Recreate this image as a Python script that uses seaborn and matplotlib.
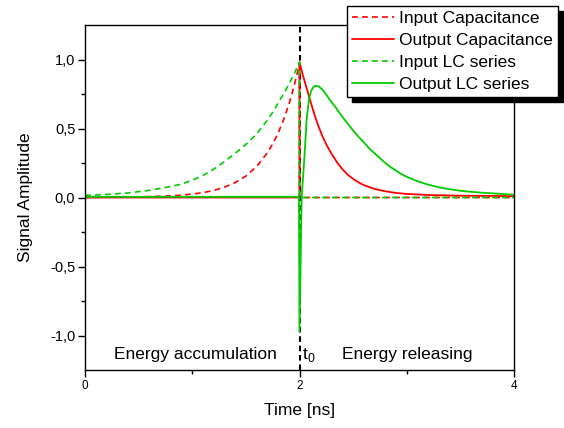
import matplotlib
matplotlib.use("Agg")
import matplotlib.pyplot as plt
import seaborn as sns
from matplotlib.ticker import FixedLocator

# Input Capacitance (dashed red)
t_in_cap = [0.0, 0.5, 0.8, 0.9, 1.0, 1.1, 1.2, 1.3, 1.4, 1.5, 1.6, 1.7, 1.75,
            1.8, 1.85, 1.9, 1.95, 2.0, 2.0, 4.0]
v_in_cap = [0.0, 0.004, 0.012, 0.017, 0.025, 0.035, 0.051, 0.075, 0.108, 0.155,
            0.224, 0.323, 0.388, 0.466, 0.56, 0.672, 0.808, 0.97, 0.0, 0.0]

# Output Capacitance (solid red)
t_out_cap = [0.0, 2.0, 2.0, 2.03, 2.06, 2.09, 2.12, 2.15, 2.18, 2.21, 2.25, 2.3,
             2.35, 2.4, 2.45, 2.5, 2.55, 2.6, 2.7, 2.8, 2.9, 3.0, 3.2, 3.5, 4.0]
v_out_cap = [0.0, 0.0, 0.98, 0.89, 0.81, 0.73, 0.65, 0.575, 0.51, 0.45, 0.385,
             0.315, 0.255, 0.205, 0.165, 0.135, 0.11, 0.09, 0.062, 0.045, 0.033,
             0.026, 0.018, 0.013, 0.01]

# Input LC series (dashed green)
t_in_lc = [0.0, 0.2, 0.4, 0.6, 0.8, 0.9, 1.0, 1.1, 1.2, 1.3, 1.4, 1.5, 1.6, 1.7,
           1.76, 1.82, 1.88, 1.94, 1.97, 2.0, 2.0, 4.0]
v_in_lc = [0.015, 0.022, 0.033, 0.052, 0.08, 0.097, 0.125, 0.16, 0.205, 0.26,
           0.32, 0.385, 0.46, 0.56, 0.63, 0.71, 0.79, 0.88, 0.93, 0.98, 0.0, 0.0]

# Output LC series (solid green)
t_out_lc = [0.0, 1.995, 2.0, 2.02, 2.045, 2.067, 2.09, 2.11, 2.13, 2.147, 2.18,
            2.216, 2.25, 2.28, 2.31, 2.34, 2.38, 2.42, 2.46, 2.5, 2.55, 2.6,
            2.65, 2.7, 2.75, 2.8, 2.85, 2.9, 2.95, 3.0, 3.1, 3.2, 3.3, 3.4, 3.5,
            3.6, 3.7, 3.8, 3.9, 4.0]
v_out_lc = [0.005, 0.005, -0.97, 0.0, 0.28, 0.57, 0.72, 0.775, 0.80, 0.81, 0.805,
            0.78, 0.745, 0.71, 0.68, 0.65, 0.605, 0.565, 0.525, 0.485, 0.44, 0.40,
            0.355, 0.32, 0.285, 0.25, 0.22, 0.195, 0.17, 0.15, 0.118, 0.093,
            0.074, 0.06, 0.049, 0.041, 0.035, 0.03, 0.025, 0.02]

y_ticks = [-1.0, -0.5, 0.0, 0.5, 1.0]
y_tick_labels = ["-1,0", "-0,5", "0,0", "0,5", "1,0"]
x_ticks = [0, 2, 4]
x_tick_labels = ["0", "2", "4"]

RED = "#ff0000"
GREEN = "#00cc00"

sns.set_style("ticks", rc={"axes.edgecolor": "black", "text.color": "black",
                           "xtick.color": "black", "ytick.color": "black",
                           "axes.labelcolor": "black"})
plt.rcParams["font.family"] = ["Liberation Sans", "DejaVu Sans"]
plt.rcParams["mathtext.fontset"] = "custom"
plt.rcParams["mathtext.rm"] = "Liberation Sans"

fig = plt.figure(figsize=(5.64, 4.28), dpi=100)
ax = fig.add_axes([85 / 564, 1 - 370 / 428, 429 / 564, 345 / 428])

ax.axvline(2.0, color="black", lw=1.5, ls=(0, (2.7, 1.8)), zorder=1)

dash = (0, (3.5, 2.5))
sns.lineplot(x=t_in_cap, y=v_in_cap, ax=ax, color=RED, lw=1.2, ls=dash,
             estimator=None, sort=False, label="Input Capacitance")
sns.lineplot(x=t_out_cap, y=v_out_cap, ax=ax, color=RED, lw=1.3,
             estimator=None, sort=False, label="Output Capacitance")
sns.lineplot(x=t_in_lc, y=v_in_lc, ax=ax, color=GREEN, lw=1.2, ls=dash,
             estimator=None, sort=False, label="Input LC series")
sns.lineplot(x=t_out_lc, y=v_out_lc, ax=ax, color=GREEN, lw=1.3,
             estimator=None, sort=False, label="Output LC series")

ax.set_xlim(0, 4)
ax.set_ylim(-1.25, 1.25)
ax.set_yticks(y_ticks)
ax.set_yticklabels(y_tick_labels, fontsize=10.5)
ax.set_xticks(x_ticks)
ax.set_xticklabels(x_tick_labels, fontsize=8.5)
ax.yaxis.set_minor_locator(FixedLocator([-0.75, -0.25, 0.25, 0.75]))
ax.xaxis.set_minor_locator(FixedLocator([1, 3]))
ax.tick_params(which="major", direction="out", length=5, width=1, pad=2)
ax.tick_params(which="minor", direction="out", length=3, width=1)
for sp in ax.spines.values():
    sp.set_visible(True)
    sp.set_linewidth(1.0)
    sp.set_color("black")

ax.set_xlabel("Time [ns]", fontsize=12.5, labelpad=8)
ax.set_ylabel("Signal Amplitude", fontsize=12.5, labelpad=12)

ax.text(1.03, -1.138, "Energy accumulation", fontsize=12.5, ha="center", va="center")
ax.text(2.025, -1.138, r"t$_{\mathregular{0}}$", fontsize=12.5, ha="left", va="center")
ax.text(3.0, -1.138, "Energy releasing", fontsize=12.5, ha="center", va="center")

leg = ax.legend(loc="upper right", bbox_to_anchor=(558 / 564, 1 - 6 / 428),
                bbox_transform=fig.transFigure, borderaxespad=0, fontsize=12.5,
                frameon=True, fancybox=False, framealpha=1, edgecolor="black",
                shadow={"color": "black", "alpha": 1, "ox": 3.5, "oy": -3.5},
                labelspacing=0.38, borderpad=0.3, handlelength=2.4,
                handletextpad=0.3)
leg.get_frame().set_linewidth(1.0)
leg.set_zorder(10)

fig.savefig("out.png", dpi=100)
